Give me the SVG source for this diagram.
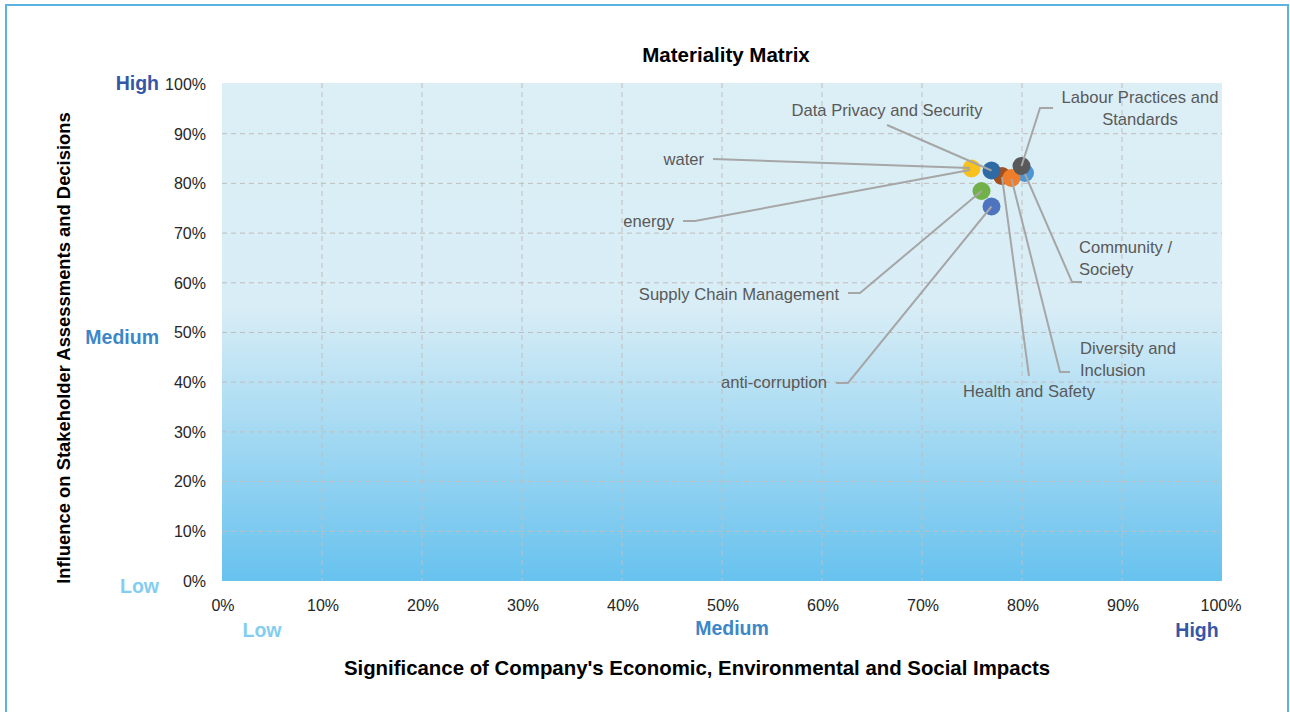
<svg xmlns="http://www.w3.org/2000/svg" width="1290" height="712" viewBox="0 0 1290 712">
<defs>
<linearGradient id="plotBg" x1="0" y1="0" x2="0" y2="1">
<stop offset="0" stop-color="#DCEFF6"/>
<stop offset="0.45" stop-color="#D8EDF6"/>
<stop offset="1" stop-color="#67C2EE"/>
</linearGradient>
</defs>
<style>
.grid{stroke:#C2BDBC;stroke-width:1;stroke-dasharray:5 4;fill:none}
.tick{font-family:"Liberation Sans",Arial,sans-serif;font-size:16px;fill:#262626}
.lbl{font-family:"Liberation Sans",Arial,sans-serif;font-size:16.6px;fill:#595959}
.lead{stroke:#A6A6A6;stroke-width:2;fill:none}
.ttl{font-family:"Liberation Sans",Arial,sans-serif;font-weight:bold;fill:#000}
.lvl{font-family:"Liberation Sans",Arial,sans-serif;font-weight:bold;font-size:19.5px}
.hi{fill:#3557A7}.md{fill:#3C87C7}.lo{fill:#83CDF0}
</style>
<rect x="0" y="0" width="1290" height="712" fill="#FFFFFF"/>
<rect x="6" y="5" width="1282" height="730" fill="none" stroke="#5BB3E1" stroke-width="2"/>
<g id="plot">
<rect x="222" y="83" width="1000" height="498" fill="url(#plotBg)"/>
<g class="grid">
<line x1="322" y1="83" x2="322" y2="581"/><line x1="422" y1="83" x2="422" y2="581"/>
<line x1="522" y1="83" x2="522" y2="581"/><line x1="622" y1="83" x2="622" y2="581"/>
<line x1="722" y1="83" x2="722" y2="581"/><line x1="822" y1="83" x2="822" y2="581"/>
<line x1="922" y1="83" x2="922" y2="581"/><line x1="1022" y1="83" x2="1022" y2="581"/>
<line x1="1122" y1="83" x2="1122" y2="581"/>
<line x1="222" y1="133.7" x2="1222" y2="133.7"/><line x1="222" y1="183.4" x2="1222" y2="183.4"/>
<line x1="222" y1="233.1" x2="1222" y2="233.1"/><line x1="222" y1="282.8" x2="1222" y2="282.8"/>
<line x1="222" y1="332.5" x2="1222" y2="332.5"/><line x1="222" y1="382.2" x2="1222" y2="382.2"/>
<line x1="222" y1="431.9" x2="1222" y2="431.9"/><line x1="222" y1="481.6" x2="1222" y2="481.6"/>
<line x1="222" y1="531.3" x2="1222" y2="531.3"/>
</g>
</g>
<g id="axes">
<text class="ttl" x="726" y="62" font-size="20.5" text-anchor="middle">Materiality Matrix</text>
<g class="tick" text-anchor="end">
<text x="206" y="90">100%</text><text x="206" y="139.5">90%</text><text x="206" y="189">80%</text>
<text x="206" y="239">70%</text><text x="206" y="288.5">60%</text><text x="206" y="338">50%</text>
<text x="206" y="388">40%</text><text x="206" y="437.5">30%</text><text x="206" y="487">20%</text>
<text x="206" y="537">10%</text><text x="206" y="587">0%</text>
</g>
<g class="tick" text-anchor="middle">
<text x="223" y="611">0%</text><text x="323" y="611">10%</text><text x="423" y="611">20%</text>
<text x="523" y="611">30%</text><text x="623" y="611">40%</text><text x="723" y="611">50%</text>
<text x="823" y="611">60%</text><text x="923" y="611">70%</text><text x="1023" y="611">80%</text>
<text x="1123" y="611">90%</text><text x="1221" y="611">100%</text>
</g>
<text class="lvl hi" x="159" y="90" text-anchor="end">High</text>
<text class="lvl md" x="159" y="344" text-anchor="end">Medium</text>
<text class="lvl lo" x="159" y="593" text-anchor="end">Low</text>
<text class="lvl lo" x="262" y="637" text-anchor="middle">Low</text>
<text class="lvl md" x="732" y="635" text-anchor="middle">Medium</text>
<text class="lvl hi" x="1197" y="637" text-anchor="middle">High</text>
<text class="ttl" x="697" y="675" font-size="20.4" text-anchor="middle">Significance of Company's Economic, Environmental and Social Impacts</text>
<text class="ttl" transform="translate(70,348) rotate(-90)" font-size="18.4" text-anchor="middle">Influence on Stakeholder Assessments and Decisions</text>
</g>
<g id="node-health"><circle cx="1002" cy="176" r="9" fill="#A44F1E"/><text class="lbl" x="1029" y="397" text-anchor="middle">Health and Safety</text></g>
<g id="node-community"><circle cx="1025" cy="173" r="9" fill="#4C95D6"/><text class="lbl" x="1079" y="253">Community /</text><text class="lbl" x="1079" y="275">Society</text></g>
<g id="node-diversity"><circle cx="1011.5" cy="178" r="9" fill="#F07D2A"/><text class="lbl" x="1080" y="354">Diversity and</text><text class="lbl" x="1080" y="376">Inclusion</text></g>
<g id="node-dataprivacy"><circle cx="991.5" cy="170.5" r="9" fill="#2E6AA3"/><text class="lbl" x="887" y="116" text-anchor="middle">Data Privacy and Security</text></g>
<g id="node-labour"><circle cx="1021.5" cy="166" r="9" fill="#595959"/><text class="lbl" x="1140" y="103" text-anchor="middle">Labour Practices and</text><text class="lbl" x="1140" y="125" text-anchor="middle">Standards</text></g>
<g id="node-water"><circle cx="971.5" cy="168.5" r="9" fill="#F9C11B"/><text class="lbl" x="704" y="165" text-anchor="end">water</text></g>
<g id="node-energy"><text class="lbl" x="674" y="227" text-anchor="end">energy</text></g>
<g id="node-supply"><circle cx="981.5" cy="191" r="9" fill="#72B04A"/><text class="lbl" x="839" y="300" text-anchor="end">Supply Chain Management</text></g>
<g id="node-anticorruption"><circle cx="991.5" cy="206.5" r="9" fill="#4E74C0"/><text class="lbl" x="827" y="388" text-anchor="end">anti-corruption</text></g>
<g id="connectors" class="lead">
<polyline points="887,125 991.5,170.5"/>
<polyline points="713,159 970,168"/>
<polyline points="683,221 695,221 970,170"/>
<polyline points="1053,108 1040,108 1021.5,166"/>
<polyline points="1082,282 1072,282 1025,174"/>
<polyline points="1070,372 1060,372 1011.5,179"/>
<polyline points="1029,376 1002,177"/>
<polyline points="848,293 860,293 981.5,191"/>
<polyline points="836,383 848,383 991.5,206.5"/>
</g>
</svg>
